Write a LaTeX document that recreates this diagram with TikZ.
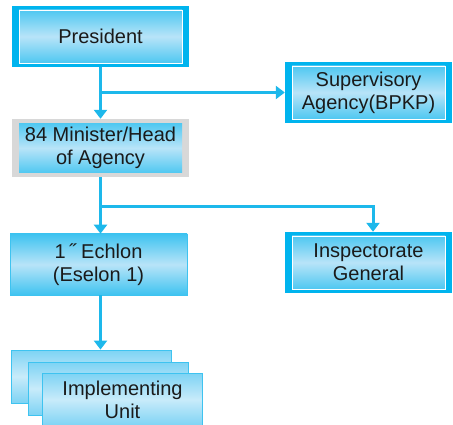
\documentclass[tikz,border=0pt]{standalone}
\usepackage{fontspec}
\setmainfont{Liberation Sans}
\usetikzlibrary{arrows.meta}
\definecolor{deep}{HTML}{00B4EE}
\definecolor{gtop}{HTML}{3EC3F0}
\definecolor{gmid}{HTML}{B8E4F8}
\definecolor{ltop}{HTML}{7DD3F4}
\definecolor{lmid}{HTML}{C8EBFA}
\definecolor{linec}{HTML}{1DB8EB}
\definecolor{edgec}{HTML}{3EC3F0}
\definecolor{grayc}{HTML}{D8D8D8}
\definecolor{textc}{HTML}{1A1A1A}
\tikzset{
  lbl/.style={align=center, text=textc, font=\fontsize{20}{23}\selectfont, inner sep=0pt},
  dblbox/.style={lbl, fill=deep, draw=none, minimum width=167pt, minimum height=61pt,
    path picture={\shadedraw[top color=gtop, bottom color=gtop, middle color=gmid, draw=white, line width=0.8pt]
      ([xshift=7pt,yshift=-4pt]path picture bounding box.north west) rectangle
      ([xshift=-7pt,yshift=4pt]path picture bounding box.south east);}},
  graybox/.style={lbl, fill=grayc, draw=none, minimum width=177pt, minimum height=58pt,
    path picture={\shade[top color=gtop, bottom color=gtop, middle color=gmid]
      ([xshift=7pt,yshift=-5pt]path picture bounding box.north west) rectangle
      ([xshift=-7pt,yshift=4pt]path picture bounding box.south east);}},
  plainbox/.style={lbl, top color=gtop, bottom color=gtop, middle color=gmid, draw=edgec, line width=0.6pt,
    minimum width=177pt, minimum height=61pt},
  unitbox/.style={lbl, top color=ltop, bottom color=ltop, middle color=lmid, draw=edgec, line width=0.8pt,
    minimum width=160pt, minimum height=53pt},
  conn/.style={draw=linec, line width=3pt, -{Triangle[width=13pt,length=9pt]}},
  plainline/.style={draw=linec, line width=3pt},
}
\begin{document}
\begin{tikzpicture}[x=1pt,y=-1pt]
\useasboundingbox (0,0) rectangle (453,425);
\node[dblbox, minimum width=177pt] (pres) at (100.5,36.5) {President};
\node[dblbox] (sup) at (368.5,92.5) {Supervisory\\Agency(BPKP)};
\node[graybox] (min) at (100.5,148) {84 Minister/Head\\of Agency};
\node[plainbox] (ech) at (98.5,264.5) {1\,˝ Echlon\\(Eselon 1)};
\node[dblbox] (insp) at (368.5,262.5) {Inspectorate\\General};
\node[unitbox] (u1) at (91,376.5) {};
\node[unitbox] (u2) at (108.5,388.5) {};
\node[unitbox] (u3) at (122.5,399.5) {Implementing\\Unit};
\coordinate (b2) at (100.5,207);
\draw[conn] (pres.south) -- (min.north);
\draw[conn] (pres.south |- sup.west) -- (sup.west);
\draw[plainline] (min.south) -- ([yshift=-2pt]b2);
\draw[conn] (b2) -- (b2 |- ech.north);
\draw[conn] (b2) -| ([xshift=4.5pt]insp.north);
\draw[conn] ([xshift=2pt]ech.south) -- ([xshift=2pt]ech.south |- u1.north);
\end{tikzpicture}
\end{document}
